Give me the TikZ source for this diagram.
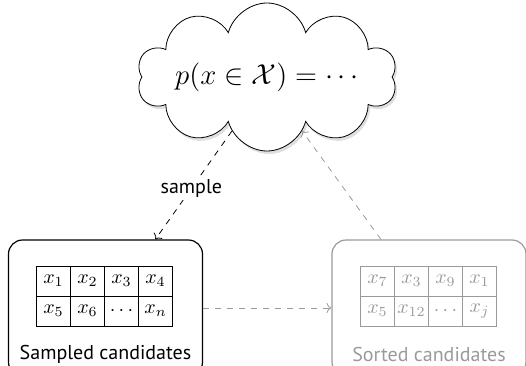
\documentclass[tikz,border=0pt]{standalone}
\usepackage[no-math]{fontspec}
\setmainfont{PT Sans}
\usetikzlibrary{arrows.meta,positioning,matrix,shapes.symbols,shadows}
\definecolor{fadedgray}{HTML}{9A9A9A}

\begin{document}
\begin{tikzpicture}[x=0.5pt,y=-0.5pt,
  box/.style={draw, semithick, rounded corners=7pt, minimum width=97pt, minimum height=68pt},
  cell/.style={draw, anchor=center, inner sep=0pt, minimum width=17pt, minimum height=15pt},
  candtable/.style={matrix of math nodes, nodes={cell}, column sep=-\pgflinewidth, row sep=-\pgflinewidth},
  link/.style={->, dashed}]
  \useasboundingbox (0,0) rectangle (526,365);
  % the distribution
  \node[cloud, draw, fill=white, cloud puffs=10, cloud ignores aspect, inner sep=0pt,
        minimum width=130pt, minimum height=74pt,
        drop shadow={opacity=0.25, shadow xshift=1pt, shadow yshift=-1.5pt}] (dist) at (267,77) {\Large $p(x\in\mathcal{X})=\cdots$};
  % sampled side
  \node[box] (sampled) at (105.5,308) {};
  \matrix (samplecells) [candtable] at (104.5,296) {
    x_1 & x_2 & x_3 & x_4 \\
    x_5 & x_6 & \cdots & x_n \\
  };
  \node (samplelabel) at (105.5,354) {Sampled candidates};
  % sorted side (faded)
  \node[box, draw=fadedgray] (sorted) at (429,308) {};
  \matrix (sortcells) [candtable, nodes={draw=fadedgray, text=fadedgray}] at (428.5,296) {
    x_7 & x_3 & x_9 & x_1 \\
    x_5 & x_{12} & \cdots & x_j \\
  };
  \node[text=fadedgray] (sortlabel) at (429,354) {Sorted candidates};
  % connectors
  \draw[link] (dist.237) -- node[pos=0.53, fill=white, inner sep=1.5pt] {sample} (sampled.54);
  \draw[link, fadedgray] (sampled.east) -- (sorted.west);
  \draw[link, fadedgray] (sorted.125) -- (dist.303);
\end{tikzpicture}
\end{document}
